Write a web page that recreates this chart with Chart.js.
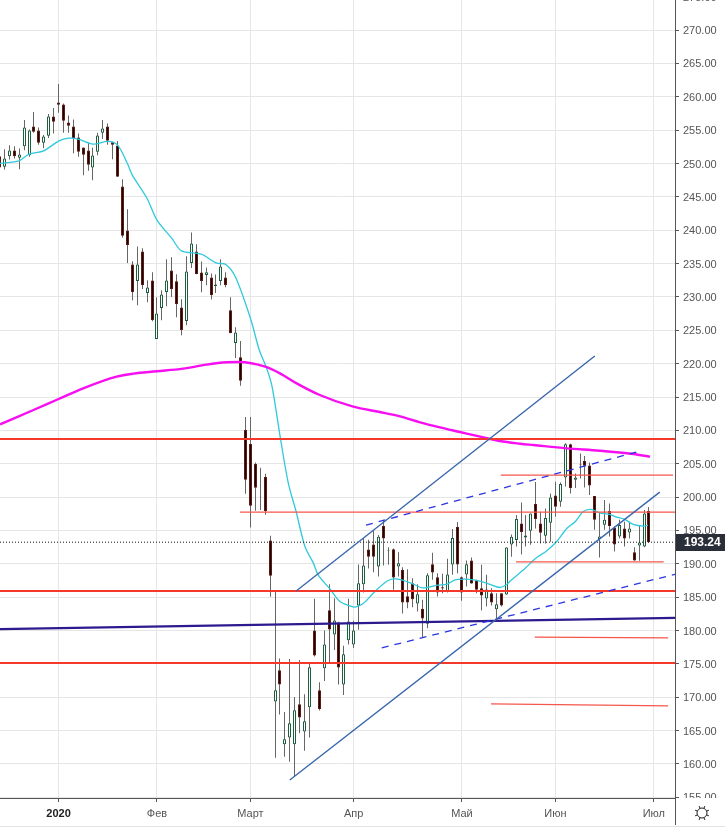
<!DOCTYPE html>
<html lang="ru">
<head>
<meta charset="utf-8">
<title>Chart</title>
<script src="https://cdn.jsdelivr.net/npm/chart.js@4/dist/chart.umd.min.js"></script>
<style>
html,body{margin:0;padding:0;background:#fff;overflow:hidden;width:725px;height:828px}
#wrap{position:absolute;left:0;top:-10px;width:725px;height:838px}
</style>
</head>
<body>
<div id="wrap"><canvas id="priceChart"></canvas></div>
<script>
/* ================= DATA ================= */
const opens = [251.1,249.5,251.1,251.95,250.85,252.6,251.25,255.55,254.95,253.1,254.15,257.05,259.15,258.85,256.15,255.55,253.9,252.4,251.95,249.4,251.75,254.6,255.55,253.2,252.7,246.55,239.95,234.85,232.4,236.8,230.6,232.45,223.7,228.35,230.75,233.95,232.35,228.4,226.4,235.1,236.8,233.65,233.3,232.9,231.65,232.4,232.9,228,223.1,220.95,210.05,207.95,204.95,200,203,193.5,169.35,174.05,162.95,163.95,162.95,168.95,164.85,168.5,180,171.05,174.35,183.05,179.4,181.2,171.9,178.55,177.9,183.75,186.95,192.15,192.9,189.6,195.65,191.95,192.2,189.6,189.1,185.15,187.1,184.05,183.25,181,189.95,188,186.5,185.85,189.9,195.5,188,188.4,190.5,187.5,186.35,184.8,185.6,183.2,185.6,185.4,192.9,193.55,196.05,193.95,194.95,198.95,196.05,194.2,196.15,200.25,199.3,202.95,207.9,202.6,204.9,205.4,204.75,200.15,193.7,195.85,197.9,195.4,194.1,195.3,194.7,191.75,192.75,192.6,197.9];
const highs = [252,252.15,252.75,252.6,252.25,256.5,255.1,257.7,255.4,254.25,257.4,258.3,261.9,259,257.2,256.6,254.5,252.4,253.1,252.35,254.6,256.5,256,253.25,253.35,247.65,243.15,235.35,237.55,237.3,232.5,233.7,229.95,231,235.65,235.95,233.4,229.65,236.1,239.65,237.9,235.3,234.4,233.5,233.35,235.65,233.7,229.95,225.45,223.4,212,212,205.2,204.4,203.5,194.2,185.8,175.8,167.8,175.75,170.05,175.6,170.45,175,184.75,172.25,180,186.95,184.85,181.3,177.7,184.75,181.45,189.9,193.85,193.6,195,194.3,196.6,192.5,192.3,191.75,189.5,189.2,187.85,186.95,184.6,188.6,191.65,188.6,188.5,190.75,195.2,196.25,188.1,190.5,190.95,187.6,189.85,188.35,186.35,185.6,185.6,192.5,194.4,197.3,199.2,197.3,197.55,202.25,197.8,198.3,200.55,202.3,202.2,208.05,208,203.55,206.55,206.15,205.2,200.15,197.65,199.55,199.05,195.6,196.6,196.3,196.3,192.5,195.7,198.05,198.5];
const lows = [249,249.1,250.6,250.75,249.15,252,251,254.6,252.8,252.3,253.8,254.5,257.6,254.6,254.6,251.55,251,248.25,248.9,247.5,251.25,253.65,252.8,250.65,248,238.85,235.1,229.5,228.75,231.2,229.2,226.35,223.7,226.5,228.6,230,226.95,224.25,225.75,234.35,233.4,230.7,231.75,229.6,230.6,231.75,231.45,224.55,220.85,216.7,200.5,195.45,197.95,198.05,197.35,185.05,160.95,167.4,161.1,160.35,158.1,164.6,162,163.95,176.1,168,172.45,175.1,177.1,171.9,170.35,177.9,177.4,180.1,185.7,189.3,188.75,188.1,189.75,189.85,186.1,188.1,182.55,183.35,183.5,182.85,178.9,180.35,187.6,185.1,185.6,185.7,188.35,188.6,184.45,186.6,187,185.6,183,183.6,183.75,181.35,183.6,185.35,191.05,192.6,191.4,192.6,192.85,195.3,193.05,193.05,193.3,197.05,198.55,201.6,200.55,201.35,202.8,201.45,200.3,195.1,190.95,195.1,194.1,191.85,193.8,192.6,193.8,190.45,190.45,192.5,193.15];
const closes = [249.4,250.75,251.95,251.1,251.35,255.4,254.95,254.75,253.1,254.05,257.05,256.25,258.8,256.4,255.65,253.8,251.75,251.3,249.8,251.2,254.2,255.25,253.4,252.8,248,239.15,237.8,230.75,234.85,231.8,231.4,226.55,227.5,230.35,232.45,231.2,228.95,225.05,233.8,238,233.45,232.4,233.7,230.3,231.85,234.55,231.8,224.6,224.65,217.45,202.6,198.7,201.4,200.05,197.9,188.2,171.05,171.9,163.7,166.1,168.05,166.95,166.4,174.5,176.25,168.25,177.9,180.15,181.5,174.45,176.45,181.35,180,187.1,189.75,191.05,191.05,194.05,193.8,192.05,187.95,190.1,184.2,184.2,184.7,185.45,181.8,188.3,188.7,185.7,186.3,188.4,193.85,189.9,185.7,189.95,187.05,186.1,185.25,186.15,184.2,183.95,183.75,192.45,194.05,196.7,194.75,194.25,197.55,196.7,194.65,196.85,199.95,198.55,201.95,207.9,201.35,202.95,204.8,204.7,201.75,196.6,194.1,196.6,195.65,192.9,195.8,193.8,195.3,190.5,193.2,197.55,193.24];

const cyanIdx = [0,4,6,9,12,14,16,19,22,24,26,27,30,32,35,37,41,44,46,48,51,52.8,54.3,55.4,57.1,58.7,60.3,62.1,63.8,64.8,67.2,69.2,71.2,72.3,74,76.3,79,81,84,86,89,91,92.6,95,97,99,101.7,103,104,106.8,109,111,113.2,115.3,117,118.6,120.2,122,124,125.4,127,128.8,130.9,131.8];
const cyanVal = [250,250.4,251.4,251.9,253.35,253.8,253.65,252.9,253.3,252.75,250,248.25,244.75,241.5,238.8,236.9,236.4,235.1,234.85,232.9,226.8,222.05,219.3,216.55,208.8,202.1,197.8,192.55,190.1,188.3,186.2,184.35,183.7,183.5,184.1,185.85,187.5,187.7,187,186.4,186.8,186.95,187.6,187.7,187.5,187.1,186.45,186.85,187.55,189.3,190.85,191.8,193.3,195.3,196.3,197.8,198.15,197.65,197.4,197,196.7,195.9,195.65,195.8];
const magentaIdx = [0.1,6.9,12,17,23.8,27.2,32,37.3,42.1,46.2,48.7,54,57,60.4,65.1,71.9,77.3,81.4,85.5,89.5,93.6,97.7,101.7,105.8,108.5,115.3,122,128.8,132.2];
const magentaVal = [210.9,213.05,214.7,216.3,218.05,218.5,218.85,219.25,219.85,220.2,220.25,219.55,218.55,217.05,215.3,213.55,212.75,212.1,211.2,210.45,209.75,209.05,208.4,208,207.8,207.3,206.95,206.45,206.05];

const redLevels = [208.7,185.93,175.14];
const thinRed = [[48.9,197.75,137.3,197.75],[101.9,203.3,136.9,203.3],[105,190.3,135,190.3],[108.8,179,135.9,178.9],[99.9,169,135.9,168.7]];
const solidBlue = [[60.3,185.93,121,221.15],[59,157.6,134.2,200.75]];
const dashedBlue = [[74.5,195.8,130.2,206.9],[77.7,177.4,137.7,188.5]];
const navyLine = [0.1,180.2,137.3,181.9];
const lastPrice = 193.24;

const monthIdx = [12,32,51,72,94,113,133];
const monthLabels = ["2020","Фев","Март","Апр","Май","Июн","Июл"];
const xMin = 0.1, xMax = 137.3;

/* ================= DATASETS ================= */
const FONT = "'Liberation Sans', Arial, sans-serif";

function seg(s){ return [{x:s[0],y:s[1]},{x:s[2],y:s[3]}]; }
function lineDs(data,color,width,extra){
  return Object.assign({type:"line",data,borderColor:color,borderWidth:width,pointRadius:0,fill:false,order:1},extra||{});
}

const idx = closes.map((_,i)=>i);
const datasets = [];

// wicks under the bodies
// grouped:false ignores barThickness, so the width has to go through maxBarThickness
datasets.push({
  type:"bar",data:idx.map(i=>({x:i,y:[lows[i],highs[i]]})),
  backgroundColor:"#666",borderWidth:0,maxBarThickness:1,grouped:false,order:5
});
datasets.push({
  type:"bar",data:idx.map(i=>({x:i,y:[opens[i],closes[i]]})),
  backgroundColor:idx.map(i=>closes[i]>=opens[i]?"#ffffff":"#1a0505"),
  borderColor:idx.map(i=>closes[i]>=opens[i]?"#1d5e3e":"#5e1a12"),
  borderWidth:1,borderSkipped:false,maxBarThickness:3,grouped:false,order:4
});

datasets.push(lineDs(cyanIdx.map((v,i)=>({x:v,y:cyanVal[i]})),"#2fc9dc",1.3,{tension:0.3,order:3}));
datasets.push(lineDs(magentaIdx.map((v,i)=>({x:v,y:magentaVal[i]})),"#f70ff2",2.4,{cubicInterpolationMode:"monotone",order:2}));

solidBlue.forEach(s=>datasets.push(lineDs(seg(s),"#3a66ad",1.4)));
dashedBlue.forEach(s=>datasets.push(lineDs(seg(s),"#2b35e0",1.3,{borderDash:[7,6]})));
datasets.push(lineDs(seg(navyLine),"#2c1a8e",2.3));
redLevels.forEach(v=>datasets.push(lineDs(seg([xMin,v,xMax,v]),"#f4392c",2)));
thinRed.forEach(s=>datasets.push(lineDs(seg(s),"#f4574c",1.2)));
datasets.push(lineDs(seg([xMin,lastPrice,xMax,lastPrice]),"#111",1,{borderDash:[1,2]}));

/* ================= PLUGINS ================= */
// round candles to whole pixels so they stay crisp
const snapBars = {
  id:"snapBars",
  afterDatasetsUpdate(chart){
    chart.data.datasets.forEach((d,n)=>{
      if(d.type!=="bar") return;
      chart.getDatasetMeta(n).data.forEach(el=>{ el.x=Math.floor(el.x)+0.5; });
    });
  }
};

const sideBits = {
  id:"sideBits",
  afterDatasetsDraw(chart){
    // cuts the 155.00 label, as the time axis panel does
    const c=chart.ctx, a=chart.chartArea;
    c.save();
    c.fillStyle="#fff";
    c.fillRect(a.right+1,a.bottom,725-a.right,40);
    c.restore();
  },
  afterDraw(chart){
    const c=chart.ctx, a=chart.chartArea;
    const y=chart.scales.y.getPixelForValue(lastPrice);
    c.save();
    // axis line down to the page bottom
    c.strokeStyle="#555"; c.lineWidth=1;
    c.beginPath(); c.moveTo(a.right+0.5,a.bottom); c.lineTo(a.right+0.5,a.bottom+27); c.stroke();
    c.strokeStyle="#e3e3e3";
    c.beginPath(); c.moveTo(0,a.bottom+28.5); c.lineTo(725,a.bottom+28.5); c.stroke();
    // last price tag
    c.fillStyle="#2a2e39";
    c.fillRect(a.right+1,Math.round(y)-8,49,17);
    c.fillStyle="#fff"; c.font="bold 12px "+FONT;
    c.textBaseline="middle"; c.textAlign="left";
    c.fillText(lastPrice.toFixed(2),a.right+9,Math.round(y)+1);
    // settings icon
    const gx=a.right+27, gy=a.bottom+15;
    c.strokeStyle="#222"; c.lineWidth=1;
    c.beginPath(); c.arc(gx,gy,5,0,Math.PI*2); c.stroke();
    for(let k=0;k<8;k++){
      const t=k*Math.PI/4+Math.PI/8;
      c.beginPath();
      c.moveTo(gx+Math.cos(t)*5,gy+Math.sin(t)*5);
      c.lineTo(gx+Math.cos(t)*7.5,gy+Math.sin(t)*7.5);
      c.stroke();
    }
    c.restore();
  }
};

/* ================= CHART ================= */
new Chart(document.getElementById("priceChart"),{
  type:"bar",
  data:{datasets},
  plugins:[snapBars,sideBits],
  options:{
    responsive:true,maintainAspectRatio:false,animation:false,
    events:[],
    layout:{padding:0},
    plugins:{legend:{display:false},tooltip:{enabled:false}},
    scales:{
      x:{
        type:"linear",min:xMin,max:xMax,offset:false,
        afterBuildTicks(s){ s.ticks=monthIdx.map(v=>({value:v})); },
        afterFit(s){ s.height=30; s.paddingLeft=0; s.paddingRight=0; },
        grid:{color:"#e6e6e6",offset:false,tickColor:"#555",tickLength:4},
        border:{color:"#555"},
        ticks:{
          maxRotation:0,autoSkip:false,padding:5,
          color:c=>c.index===0?"#222":"#555",
          font:c=>({family:FONT,size:11,weight:c.index===0?"bold":"normal"}),
          callback:(v,i)=>monthLabels[i]
        }
      },
      y:{
        type:"linear",position:"right",min:154.9,max:276,beginAtZero:false,
        afterFit(s){ s.width=50; s.paddingTop=0; s.paddingBottom=0; },
        grid:{color:"#e6e6e6",tickColor:"#555",tickLength:4},
        border:{color:"#555"},
        ticks:{
          stepSize:5,includeBounds:false,padding:4,color:"#555",labelOffset:1,
          font:{family:FONT,size:11},
          callback:v=>v.toFixed(2)
        }
      }
    }
  }
});
</script>
</body>
</html>
